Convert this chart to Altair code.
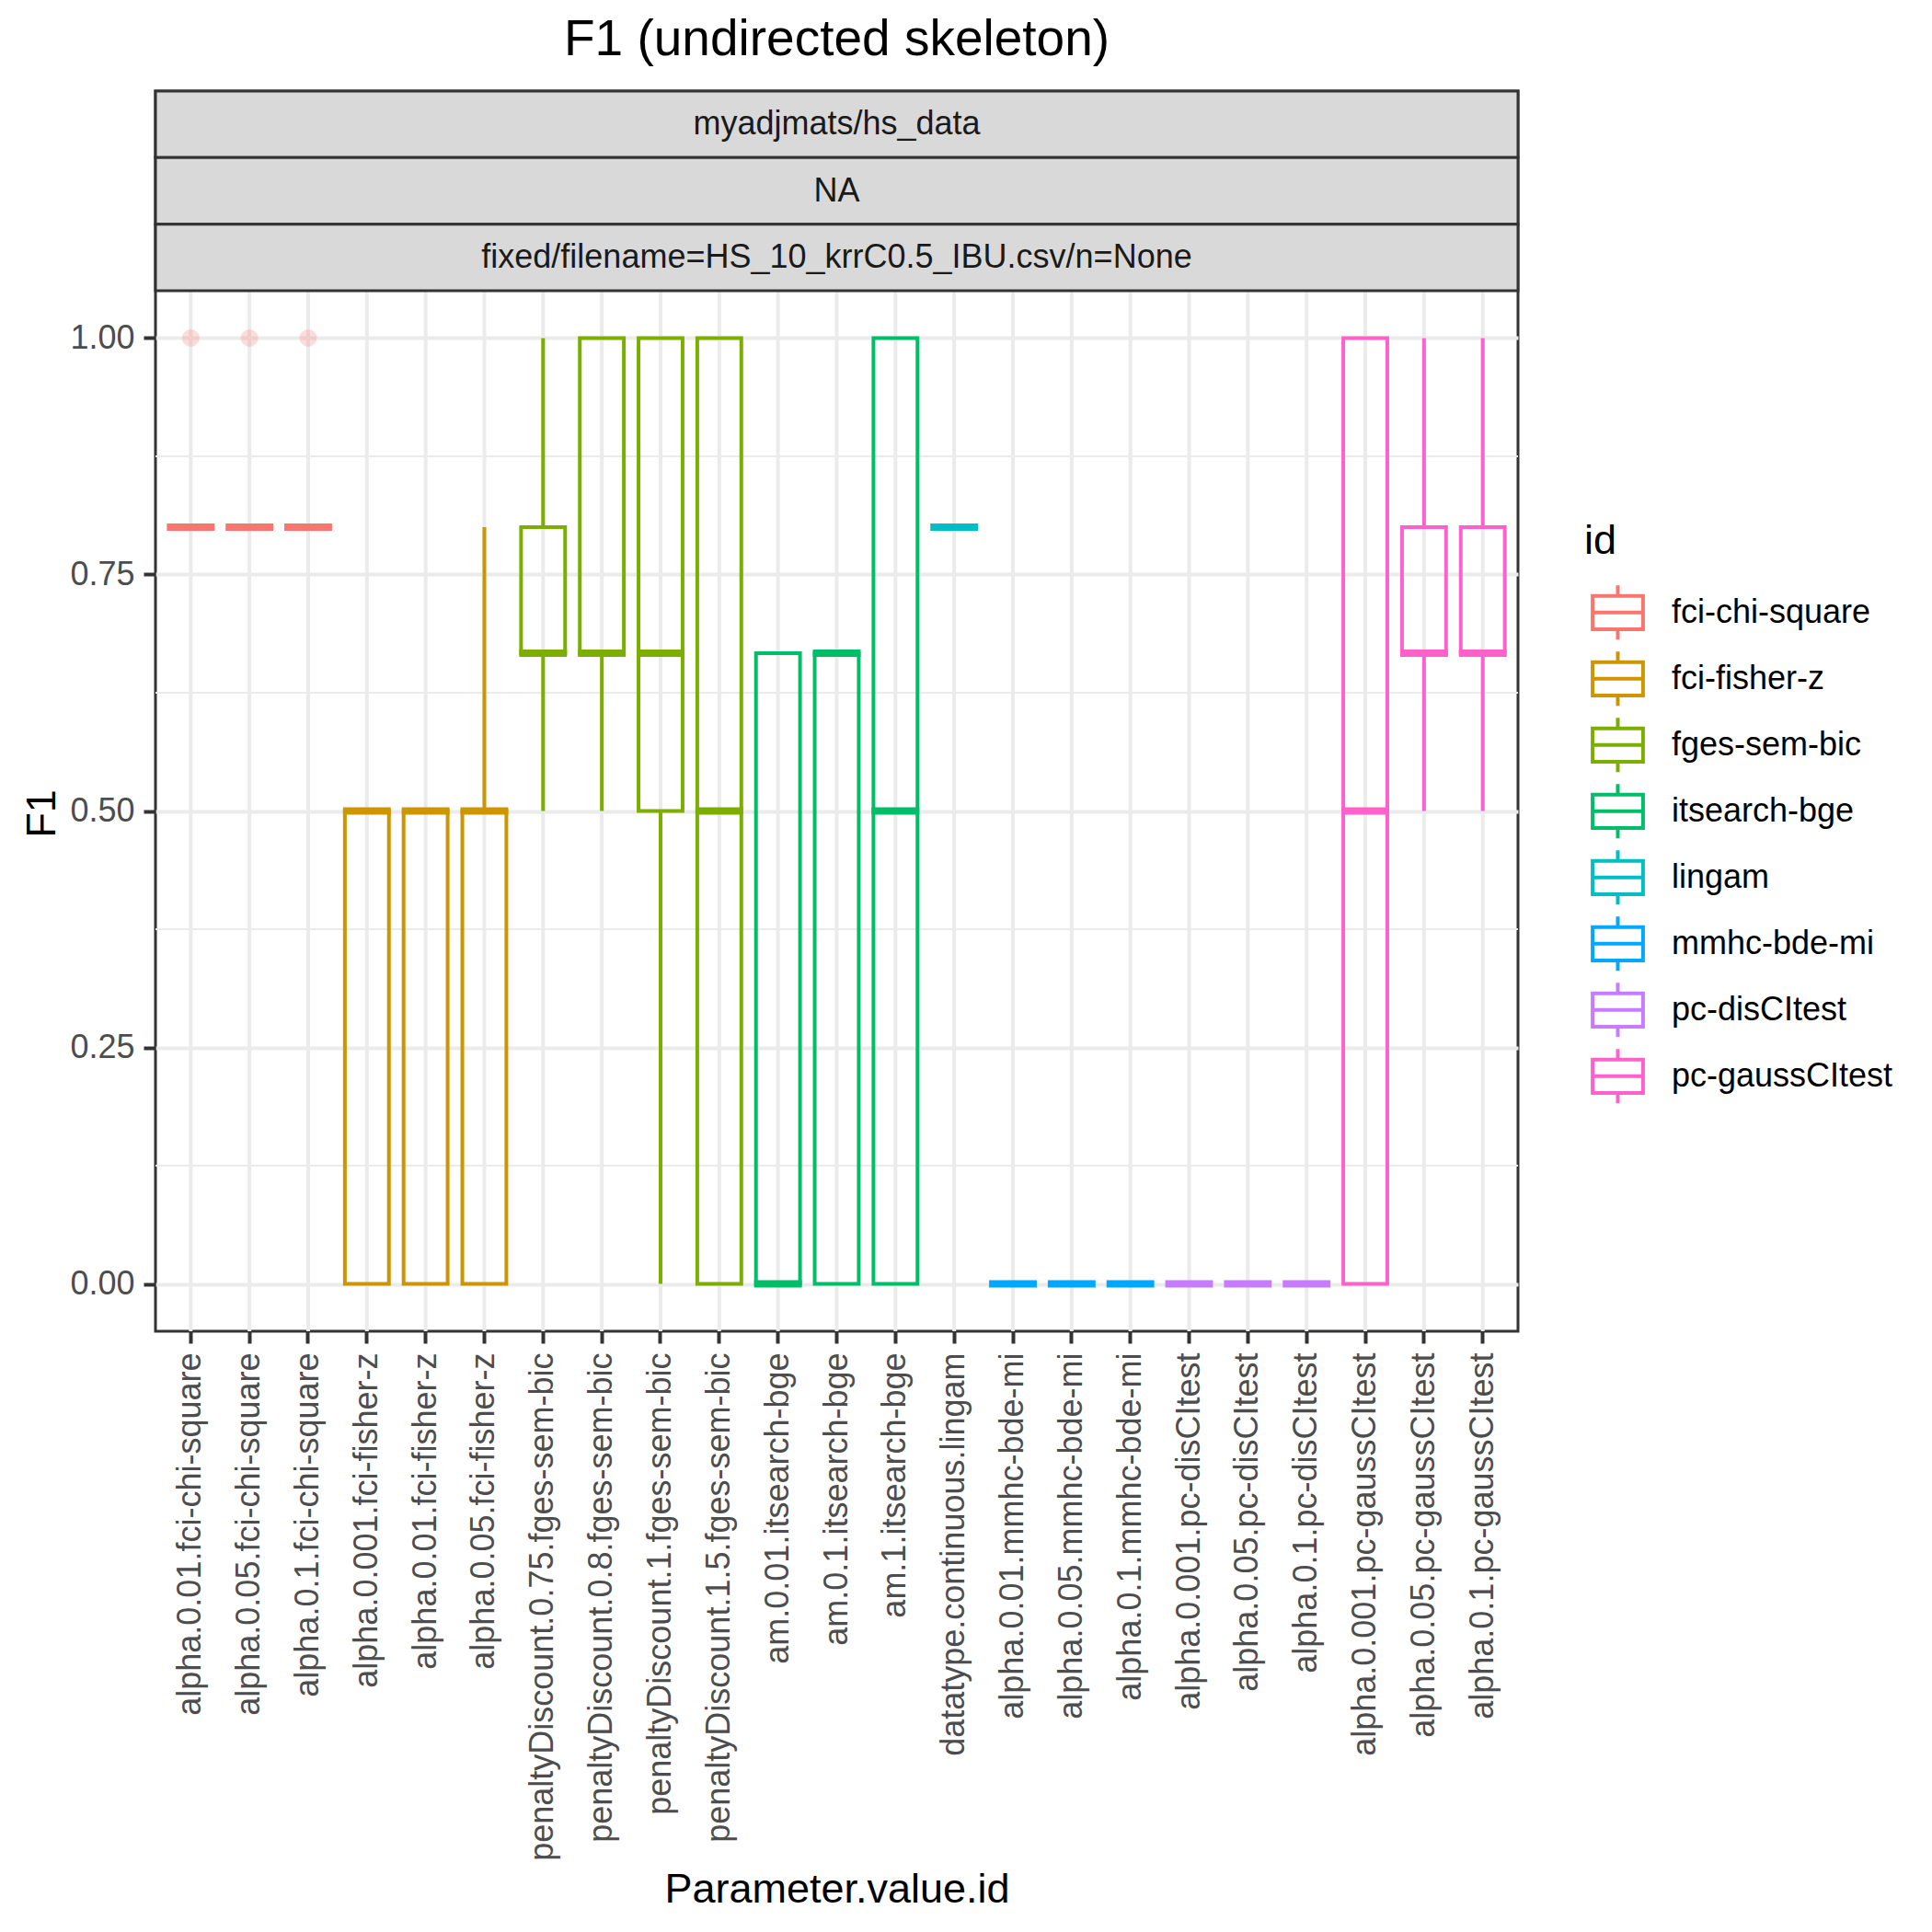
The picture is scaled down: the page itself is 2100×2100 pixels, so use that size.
import altair as alt
import pandas as pd

FONT = "Liberation Sans"

params = [
    "alpha.0.01.fci-chi-square", "alpha.0.05.fci-chi-square", "alpha.0.1.fci-chi-square",
    "alpha.0.001.fci-fisher-z", "alpha.0.01.fci-fisher-z", "alpha.0.05.fci-fisher-z",
    "penaltyDiscount.0.75.fges-sem-bic", "penaltyDiscount.0.8.fges-sem-bic",
    "penaltyDiscount.1.fges-sem-bic", "penaltyDiscount.1.5.fges-sem-bic",
    "am.0.01.itsearch-bge", "am.0.1.itsearch-bge", "am.1.itsearch-bge",
    "datatype.continuous.lingam",
    "alpha.0.01.mmhc-bde-mi", "alpha.0.05.mmhc-bde-mi", "alpha.0.1.mmhc-bde-mi",
    "alpha.0.001.pc-disCItest", "alpha.0.05.pc-disCItest", "alpha.0.1.pc-disCItest",
    "alpha.0.001.pc-gaussCItest", "alpha.0.05.pc-gaussCItest", "alpha.0.1.pc-gaussCItest",
]
ids = [
    "fci-chi-square", "fci-chi-square", "fci-chi-square",
    "fci-fisher-z", "fci-fisher-z", "fci-fisher-z",
    "fges-sem-bic", "fges-sem-bic", "fges-sem-bic", "fges-sem-bic",
    "itsearch-bge", "itsearch-bge", "itsearch-bge",
    "lingam",
    "mmhc-bde-mi", "mmhc-bde-mi", "mmhc-bde-mi",
    "pc-disCItest", "pc-disCItest", "pc-disCItest",
    "pc-gaussCItest", "pc-gaussCItest", "pc-gaussCItest",
]
lower = [0.8, 0.8, 0.8, 0, 0, 0, 0.5, 0.5, 0, 0, 0, 0, 0, 0.8,
         0, 0, 0, 0, 0, 0, 0, 0.5, 0.5]
q1 = [0.8, 0.8, 0.8, 0, 0, 0, 0.6667, 0.6667, 0.5, 0, 0, 0, 0, 0.8,
      0, 0, 0, 0, 0, 0, 0, 0.6667, 0.6667]
median = [0.8, 0.8, 0.8, 0.5, 0.5, 0.5, 0.6667, 0.6667, 0.6667, 0.5, 0, 0.6667, 0.5, 0.8,
          0, 0, 0, 0, 0, 0, 0.5, 0.6667, 0.6667]
q3 = [0.8, 0.8, 0.8, 0.5, 0.5, 0.5, 0.8, 1, 1, 1, 0.6667, 0.6667, 1, 0.8,
      0, 0, 0, 0, 0, 0, 1, 0.8, 0.8]
upper = [0.8, 0.8, 0.8, 0.5, 0.5, 0.8, 1, 1, 1, 1, 0.6667, 0.6667, 1, 0.8,
         0, 0, 0, 0, 0, 0, 1, 1, 1]

outlier_params = ["alpha.0.01.fci-chi-square", "alpha.0.05.fci-chi-square", "alpha.0.1.fci-chi-square"]
outlier_ids = ["fci-chi-square", "fci-chi-square", "fci-chi-square"]
outlier_values = [1.0, 1.0, 1.0]

id_levels = ["fci-chi-square", "fci-fisher-z", "fges-sem-bic", "itsearch-bge",
             "lingam", "mmhc-bde-mi", "pc-disCItest", "pc-gaussCItest"]
id_colors = ["#F8766D", "#CD9600", "#7CAE00", "#00BE67",
             "#00BFC4", "#00A9FF", "#C77CFF", "#FF61CC"]

y_breaks = [0, 0.25, 0.5, 0.75, 1.0]
minor_breaks = [0.125, 0.375, 0.625, 0.875]

strip_labels = ["myadjmats/hs_data", "NA", "fixed/filename=HS_10_krrC0.5_IBU.csv/n=None"]

df = pd.DataFrame({"param": params, "id": ids, "lower": lower, "q1": q1,
                   "median": median, "q3": q3, "upper": upper})
out_df = pd.DataFrame({"param": outlier_params, "id": outlier_ids, "value": outlier_values})
minor_df = pd.DataFrame({"v": minor_breaks})
grid_df = pd.DataFrame({"param": params})
strip_df = pd.DataFrame({"strip": strip_labels})

W = 1481
PANEL_H = 1131
STRIP_H = 217
H = STRIP_H + PANEL_H
STEP = W / 23.2
BOX_W = 0.75 * STEP

x_scale = alt.Scale(domain=params, paddingInner=0, paddingOuter=0.1)
y_scale = alt.Scale(domain=[-0.05, 1.05], range=[H, STRIP_H], nice=False, zero=False)
color_scale = alt.Scale(domain=id_levels, range=id_colors)

x_axis = alt.Axis(
    title="Parameter.value.id", labelAngle=-90, labelAlign="right", labelBaseline="middle",
    labelFontSize=36, labelColor="#4D4D4D", labelFont=FONT, labelPadding=10,
    labelLimit=0, labelOverlap=False,
    tickSize=13, tickWidth=4, tickColor="#333333", domain=False,
    grid=False, bandPosition=0.5,
    titleFontSize=45, titleFont=FONT, titleFontWeight="normal", titleColor="black",
    titleBaseline="alphabetic", titleY=620,
)
y_axis = alt.Axis(
    title="F1", values=y_breaks, format=".2f",
    labelFontSize=36, labelColor="#4D4D4D", labelFont=FONT, labelPadding=10,
    tickSize=13, tickWidth=4, tickColor="#333333", domain=False,
    grid=True, gridColor="#EBEBEB", gridWidth=4,
    titleFontSize=45, titleFont=FONT, titleFontWeight="normal", titleColor="black",
    titleAngle=-90, titleBaseline="alphabetic", titleAlign="center", titleX=-110, titleY=785,
)

legend_path = "M-0.8,-0.53H0.8V0.53H-0.8Z M-0.8,0H0.8 M0,-0.53V-0.86 M0,0.53V0.86"
legend = alt.Legend(
    title="id", orient="none", legendX=1553, legendY=467, direction="vertical",
    titleFontSize=45, titleFont=FONT, titleFontWeight="normal", titleColor="black",
    titlePadding=19, labelFontSize=36, labelFont=FONT, labelColor="black",
    labelOffset=22, labelLimit=600, symbolSize=4692, symbolType=legend_path,
    symbolStrokeWidth=4, symbolFillColor="transparent", symbolOpacity=1,
    clipHeight=71.6, rowPadding=0, padding=0,
)


def xenc():
    return alt.X("param:N", scale=x_scale, sort=params, axis=x_axis)


def color_enc():
    return alt.Color("id:N", scale=color_scale, legend=legend)


xgrid = alt.Chart(grid_df).mark_rule(color="#EBEBEB", strokeWidth=4).encode(x=xenc())
minor = alt.Chart(minor_df).mark_rule(color="#EBEBEB", strokeWidth=2).encode(
    y=alt.Y("v:Q", scale=y_scale, axis=y_axis)
)

whisk_lo = alt.Chart(df).mark_rule(strokeWidth=4).encode(
    x=xenc(), y=alt.Y("lower:Q", scale=y_scale, axis=y_axis), y2="q1:Q", color=color_enc()
)
whisk_hi = alt.Chart(df).mark_rule(strokeWidth=4).encode(
    x=xenc(), y=alt.Y("q3:Q", scale=y_scale, axis=y_axis), y2="upper:Q", color=color_enc()
)
box = alt.Chart(df).mark_bar(filled=False, strokeWidth=4, width=BOX_W).encode(
    x=xenc(), y=alt.Y("q1:Q", scale=y_scale, axis=y_axis), y2="q3:Q", color=color_enc()
)
med = alt.Chart(df).mark_tick(orient="horizontal", filled=False, thickness=0.01,
                              strokeWidth=8, size=BOX_W - 4, opacity=1).encode(
    x=xenc(), y=alt.Y("median:Q", scale=y_scale, axis=y_axis), color=color_enc()
)
outl = alt.Chart(out_df).mark_point(filled=False, size=80, strokeWidth=10, opacity=0.25).encode(
    x=xenc(), y=alt.Y("value:Q", scale=y_scale, axis=y_axis), color=color_enc()
)

main = alt.layer(xgrid, minor, whisk_lo, whisk_hi, box, med, outl)

strip_y = alt.Y("strip:N", sort=strip_labels,
                scale=alt.Scale(domain=strip_labels, range=[0, STRIP_H], paddingInner=0, paddingOuter=0),
                axis=None)
strip_rect = alt.Chart(strip_df).mark_rect(fill="#D9D9D9", stroke="#333333", strokeWidth=3).encode(
    y=strip_y, x=alt.value(0), x2=alt.value(W)
)
strip_text = alt.Chart(strip_df).mark_text(fontSize=36, font=FONT, color="#1A1A1A",
                                           baseline="middle", align="center").encode(
    y=strip_y, x=alt.value(W / 2), text="strip:N"
)
strips = alt.layer(strip_rect, strip_text)

chart = alt.layer(main, strips).resolve_scale(y="independent").properties(
    width=W, height=H,
    autosize=alt.AutoSizeParams(type="none"),
    padding={"left": 161, "top": 91, "right": 442, "bottom": 645},
    title=alt.TitleParams("F1 (undirected skeleton)", fontSize=55, font=FONT, color="black",
                          fontWeight="normal", anchor="middle", frame="group", offset=25),
).configure(font=FONT).configure_view(stroke="#333333", strokeWidth=3, fill="white")

chart.save("out.html", embed_options={"renderer": "svg", "actions": False})
